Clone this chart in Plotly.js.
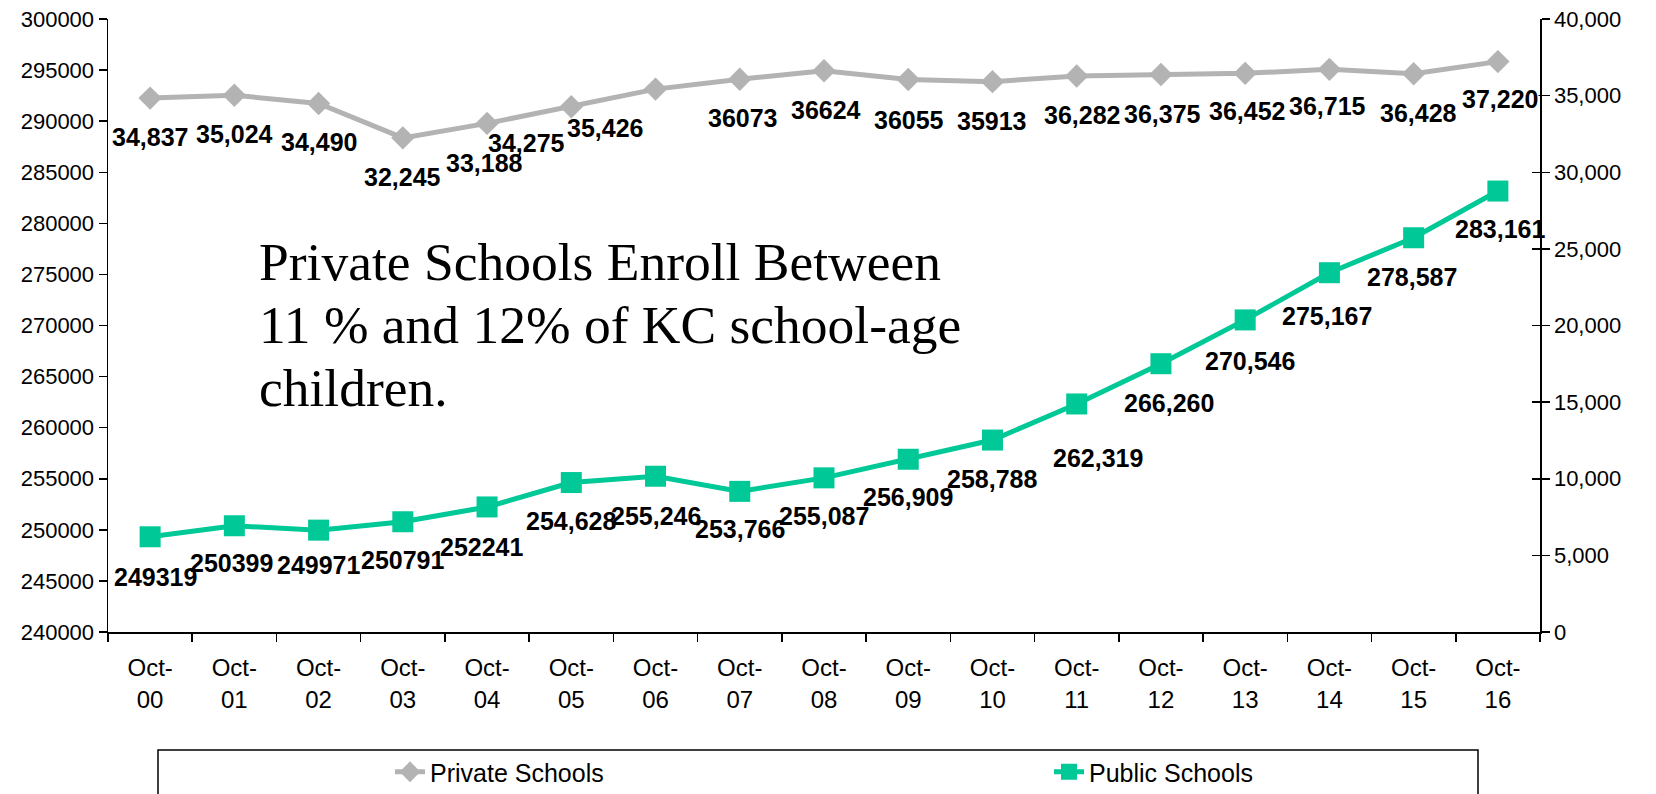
<!DOCTYPE html>
<html>
<head>
<meta charset="utf-8">
<script src="https://cdn.plot.ly/plotly-3.0.1.min.js"></script>
<style>
  html, body { margin: 0; padding: 0; background: #ffffff; }
  #chart { width: 1656px; height: 794px; }
</style>
</head>
<body>
<div id="chart"></div>
<script>
// ---- data ----
const categories = ['Oct-00','Oct-01','Oct-02','Oct-03','Oct-04','Oct-05','Oct-06','Oct-07','Oct-08',
                    'Oct-09','Oct-10','Oct-11','Oct-12','Oct-13','Oct-14','Oct-15','Oct-16'];
const tickLabels = ['Oct-<br>00','Oct-<br>01','Oct-<br>02','Oct-<br>03','Oct-<br>04','Oct-<br>05','Oct-<br>06',
                    'Oct-<br>07','Oct-<br>08','Oct-<br>09','Oct-<br>10','Oct-<br>11','Oct-<br>12','Oct-<br>13',
                    'Oct-<br>14','Oct-<br>15','Oct-<br>16'];
const privateSchools = [34837, 35024, 34490, 32245, 33188, 34275, 35426, 36073, 36624,
                        36055, 35913, 36282, 36375, 36452, 36715, 36428, 37220];
const publicSchools = [249319, 250399, 249971, 250791, 252241, 254628, 255246, 253766, 255087,
                       256909, 258788, 262319, 266260, 270546, 275167, 278587, 283161];
const privateLabels = ['34,837','35,024','34,490','32,245','33,188','34,275','35,426','36073','36624',
                       '36055','35913','36,282','36,375','36,452','36,715','36,428','37,220'];
const publicLabels = ['249319','250399','249971','250791','252241','254,628','255,246','253,766','255,087',
                      '256,909','258,788','262,319','266,260','270,546','275,167','278,587','283,161'];
const noteLines = ['Private Schools Enroll Between', '11 % and 12% of KC school-age', 'children.'];

// ---- label placement (style, not data) ----
const privateLabelShiftX = [0,0,0,0,-3,-45,-51,3,2,1,0,5,2,2,-2,5,2];
const privateLabelShiftY = [-39,-39,-39,-39,-40,-36,-39,-39,-39,-41,-39,-39,-39,-38,-37,-39,-37];
const privateLabelFill   = [0,0,0,0,0,0,0,0,0,0,0,0,0,0,0,0,1];
const publicLabelShiftX  = [5,-3,0,0,-5,0,0,0,0,0,0,21,8,5,-2,-2,2];
const publicLabelShiftY  = [-40,-37,-35,-38,-40,-38,-40,-38,-38,-38,-39,-54,-39,-41,-43,-39,-38];

// ---- geometry ----
const W = 1656, H = 794;
const M = {l: 108, r: 116, t: 19, b: 162};
const PW = W - M.l - M.r, PH = H - M.t - M.b;
const px2x = px => (px - M.l) / PW;
const py2y = py => (H - M.b - py) / PH;

const SANS = 'Liberation Sans, Arial, sans-serif';
const SERIF = 'Liberation Serif, Times New Roman, serif';
const GRAY = '#b3b3b3';
const GREEN = '#00c896';

const traces = [
  {
    x: categories, y: privateSchools, name: 'Private Schools', yaxis: 'y2', legend: 'legend',
    type: 'scatter', mode: 'lines+markers',
    line: {color: GRAY, width: 5},
    marker: {symbol: 'diamond', size: 18, color: GRAY},
    hoverinfo: 'skip'
  },
  {
    x: categories, y: publicSchools, name: 'Public Schools', yaxis: 'y', legend: 'legend2',
    type: 'scatter', mode: 'lines+markers',
    line: {color: GREEN, width: 5},
    marker: {symbol: 'square', size: 21, color: GREEN},
    hoverinfo: 'skip'
  },
  // keeps the tick-only right axis (crossing ticks) alive
  {x: [categories[0]], y: [null], yaxis: 'y3', showlegend: false, hoverinfo: 'skip', type: 'scatter', mode: 'markers'}
];

const labelFont = {family: SANS, size: 25, color: '#000000', weight: 'bold'};
const annotations = [];
categories.forEach((c, i) => {
  const a = {
    x: c, y: privateSchools[i], xref: 'x', yref: 'y2',
    text: privateLabels[i], showarrow: false,
    xanchor: 'center', yanchor: 'middle',
    xshift: privateLabelShiftX[i], yshift: privateLabelShiftY[i],
    borderpad: 0,
    font: labelFont
  };
  if (privateLabelFill[i]) { a.bgcolor = '#ffffff'; a.height = 50; }
  annotations.push(a);
  annotations.push({
    x: c, y: publicSchools[i], xref: 'x', yref: 'y',
    text: publicLabels[i], showarrow: false,
    xanchor: 'center', yanchor: 'middle',
    xshift: publicLabelShiftX[i], yshift: publicLabelShiftY[i],
    font: labelFont
  });
});
const noteCenters = [262, 325, 388];
noteLines.forEach((t, i) => {
  annotations.push({
    xref: 'paper', yref: 'paper', x: px2x(257), y: py2y(noteCenters[i]),
    xanchor: 'left', yanchor: 'middle', showarrow: false,
    text: t, font: {family: SERIF, size: 53.5, color: '#000000'}
  });
});

const legendCommon = {
  orientation: 'h', xanchor: 'left', yanchor: 'middle',
  xref: 'container', yref: 'container',
  y: (H - 772) / H,
  bgcolor: 'rgba(0,0,0,0)', borderwidth: 0,
  font: {family: SANS, size: 25, color: '#000'}
};

const layout = {
  width: W, height: H,
  margin: M,
  paper_bgcolor: '#ffffff', plot_bgcolor: '#ffffff',
  showlegend: true,
  font: {family: SANS, color: '#000000'},
  xaxis: {
    type: 'category',
    tickmode: 'array', tickvals: categories, ticktext: tickLabels,
    range: [-0.5, categories.length - 0.5],
    tickson: 'boundaries', ticks: 'outside', ticklen: 8, tickcolor: '#000', tickwidth: 1.5,
    ticklabelstandoff: 14, automargin: false,
    showline: true, linecolor: '#000', linewidth: 1.5,
    showgrid: false, zeroline: false,
    tickfont: {family: SANS, size: 24, color: '#000'}
  },
  yaxis: {
    range: [240000, 300000], dtick: 5000, tick0: 240000, tickformat: 'd', automargin: false,
    ticks: 'outside', ticklen: 8, tickcolor: '#000', tickwidth: 1.5,
    showline: true, linecolor: '#000', linewidth: 1.5,
    showgrid: false, zeroline: false,
    tickfont: {family: SANS, size: 22, color: '#000'}
  },
  yaxis2: {
    overlaying: 'y', side: 'right', anchor: 'x', automargin: false,
    range: [0, 40000], dtick: 5000, tick0: 0, tickformat: ',d',
    ticks: 'outside', ticklen: 8, tickcolor: '#000', tickwidth: 1.5,
    showline: true, linecolor: '#000', linewidth: 1.5,
    showgrid: false, zeroline: false,
    tickfont: {family: SANS, size: 22, color: '#000'}
  },
  yaxis3: {
    overlaying: 'y', side: 'right', anchor: 'x', automargin: false,
    range: [0, 40000], dtick: 5000, tick0: 0,
    ticks: 'inside', ticklen: 8, tickcolor: '#000', tickwidth: 1.5,
    showticklabels: false, showline: false, showgrid: false, zeroline: false
  },
  legend: Object.assign({}, legendCommon, {x: 390 / W}),
  legend2: Object.assign({}, legendCommon, {x: 1049 / W}),
  shapes: [{
    type: 'rect', xref: 'paper', yref: 'paper',
    x0: px2x(158), x1: px2x(1478), y0: py2y(750), y1: py2y(800),
    line: {color: '#000', width: 1.5}, fillcolor: 'rgba(0,0,0,0)', layer: 'below'
  }],
  annotations: annotations
};

Plotly.newPlot('chart', traces, layout, {displayModeBar: false, staticPlot: true});
</script>
</body>
</html>
